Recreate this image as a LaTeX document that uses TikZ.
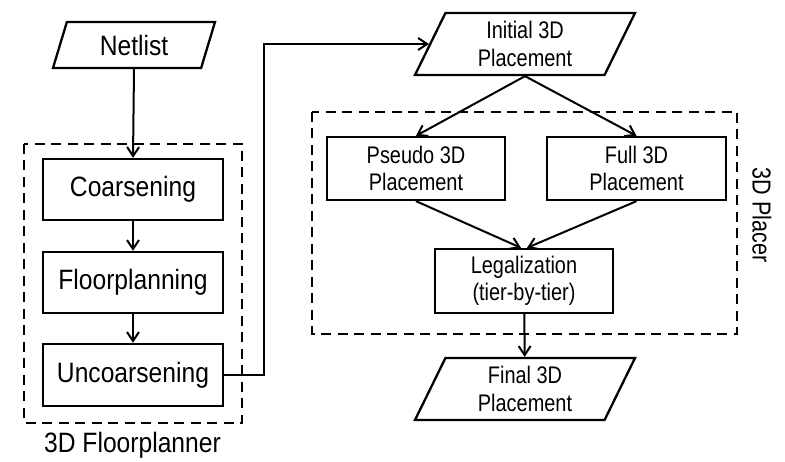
\documentclass[tikz,border=0pt]{standalone}
\usepackage{fontspec}
\setmainfont{Liberation Sans}
\newfontfamily\bigface{Liberation Sans}[FakeStretch=0.88]
\newfontfamily\smallface{Liberation Sans}[FakeStretch=0.83]
\usetikzlibrary{shapes.geometric,arrows.meta}

\tikzset{
  bigtext/.style={font=\bigface\fontsize{28}{32}\selectfont},
  smalltext/.style={font=\smallface\fontsize{24}{27.5}\selectfont, align=center},
  stepbox/.style={draw, line width=2.3pt, rectangle, inner sep=0pt},
  iobox/.style={draw, line width=2.3pt, trapezium, trapezium left angle=56,
    trapezium right angle=124, trapezium stretches body=true, inner sep=0pt},
  group/.style={draw, line width=2.4pt, dash pattern=on 10pt off 6.5pt},
  flow/.style={line width=2pt, -{Straight Barb[length=9pt,width=12pt,line width=2pt]}},
}

\begin{document}
\begin{tikzpicture}[x=1pt,y=-1pt]
  \useasboundingbox (0,0) rectangle (785,462);

  % 3D floorplanner
  \node[iobox, bigtext, minimum width=162pt, minimum height=46pt] (net) at (134,45) {Netlist};
  \draw[group] (24,144) rectangle (242,423);
  \node[stepbox, bigtext, minimum width=180pt, minimum height=61pt] (coar) at (133,189.5) {Coarsening};
  \node[stepbox, bigtext, minimum width=180pt, minimum height=61pt] (floor) at (133,282.5) {Floorplanning};
  \node[stepbox, bigtext, minimum width=180pt, minimum height=62pt] (uncoar) at (133,375) {Uncoarsening};
  \node[bigtext, anchor=base] (fplabel) at (132.5,453) {3D Floorplanner};

  % 3D placer
  \node[iobox, smalltext, minimum width=220pt, minimum height=62pt] (ini) at (525,44) {Initial 3D\\Placement};
  \draw[group] (312,112) rectangle (737,334);
  \node[stepbox, smalltext, minimum width=178pt, minimum height=63pt] (pseudo) at (416,168.5) {Pseudo 3D\\Placement};
  \node[stepbox, smalltext, minimum width=179pt, minimum height=63pt] (full) at (636.5,168.5) {Full 3D\\Placement};
  \node[stepbox, smalltext, minimum width=178pt, minimum height=64pt] (legal) at (524,281) {Legalization\\(tier-by-tier)};
  \node[iobox, smalltext, minimum width=220pt, minimum height=62pt] (final) at (525,389) {Final 3D\\Placement};
  \node[font=\smallface\fontsize{26}{30}\selectfont, rotate=-90] (placer) at (762,215) {3D Placer};

  % connectors
  \draw[flow] (net.south) -- (coar.north);
  \draw[flow] (coar) -- (floor);
  \draw[flow] (floor) -- (uncoar);
  \draw[flow] (uncoar.east) -- ++(40,0) |- (ini);
  \draw[flow] (ini.south) -- (pseudo.north);
  \draw[flow] (ini.south) -- (full.north);
  \draw[flow] (pseudo.south) -- ([xshift=-3pt]legal.north);
  \draw[flow] (full.south) -- ([xshift=3pt]legal.north);
  \draw[flow] (legal) -- (final);
\end{tikzpicture}
\end{document}
